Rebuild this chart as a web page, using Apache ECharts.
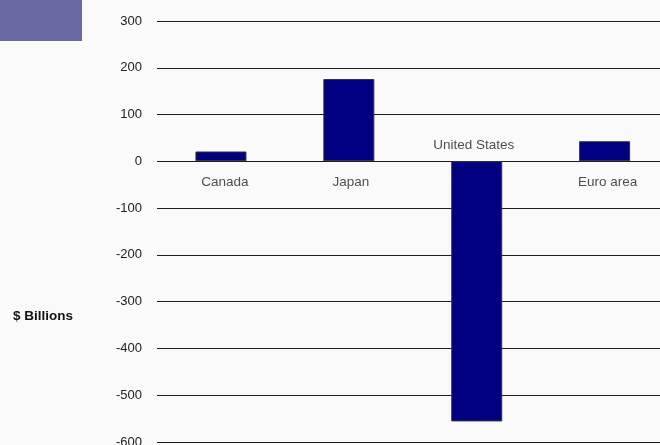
<!DOCTYPE html>
<html>
<head>
<meta charset="utf-8">
<script src="https://cdn.jsdelivr.net/npm/echarts@6/dist/echarts.min.js"></script>
<style>
  html, body { margin: 0; padding: 0; background: #fafafa; }
  #chart { width: 660px; height: 445px; }
</style>
</head>
<body>
<div id="chart"></div>
<script>
// Current account balances, $ billions
const categories = ['Canada', 'Japan', 'United States', 'Euro area'];
const balances = [21, 176, -556, 43];
const yMin = -600, yMax = 300, yStep = 100;
const axisTitle = '$ Billions';

const FONT = '"Liberation Sans", Arial, sans-serif';

// small horizontal nudges of the category names relative to their bars
const nameShift = [4, 2, -3, 3];

const chart = echarts.init(document.getElementById('chart'), null, { renderer: 'canvas' });

// Bars are placed on a numeric x axis by category index, so the last
// category slot can run past the right edge of the chart
const barData = categories.map((c, i) => [i, balances[i]]);

// Category names sit at the zero line: below it for surpluses, above it for deficits
const nameMarks = categories.map((c, i) => ({
  value: [i, 0],
  label: {
    position: balances[i] >= 0 ? 'bottom' : 'top',
    distance: balances[i] >= 0 ? 14 : 9,
    offset: [nameShift[i], 0]
  }
}));

chart.setOption({
  backgroundColor: '#fafafa',
  animation: false,
  graphic: [
    {
      type: 'rect',
      left: 0, top: 0,
      shape: { width: 82, height: 41 },
      style: { fill: '#6a6aa3' },
      silent: true
    },
    {
      type: 'text',
      left: 13, top: 309,
      style: { text: axisTitle, font: 'bold 13.5px ' + FONT, fill: '#111' },
      silent: true
    }
  ],
  grid: [
    { left: 157, right: 0, top: 21, bottom: 3, containLabel: false, outerBoundsMode: 'none' }
  ],
  xAxis: [
    // each category slot is ~128px wide; the plot is cut off inside the fourth slot
    { type: 'value', min: -0.5, max: 3.433, show: false, splitLine: { show: false } }
  ],
  yAxis: [
    {
      type: 'value', min: yMin, max: yMax, interval: yStep,
      axisLine: { show: false },
      axisTick: { show: false },
      axisLabel: { color: '#222', fontFamily: FONT, fontSize: 13, margin: 15 },
      splitLine: { lineStyle: { color: '#1c1c1c', width: 1 } }
    }
  ],
  series: [
    {
      type: 'bar',
      data: barData,
      barWidth: 51,
      itemStyle: { color: '#000080', borderColor: '#333', borderWidth: 1 }
    },
    {
      type: 'scatter',
      data: nameMarks,
      symbolSize: 0,
      silent: true,
      label: {
        show: true,
        formatter: p => categories[p.dataIndex],
        color: '#222',
        fontFamily: FONT,
        fontSize: 13.5
      }
    }
  ]
});
</script>
</body>
</html>
